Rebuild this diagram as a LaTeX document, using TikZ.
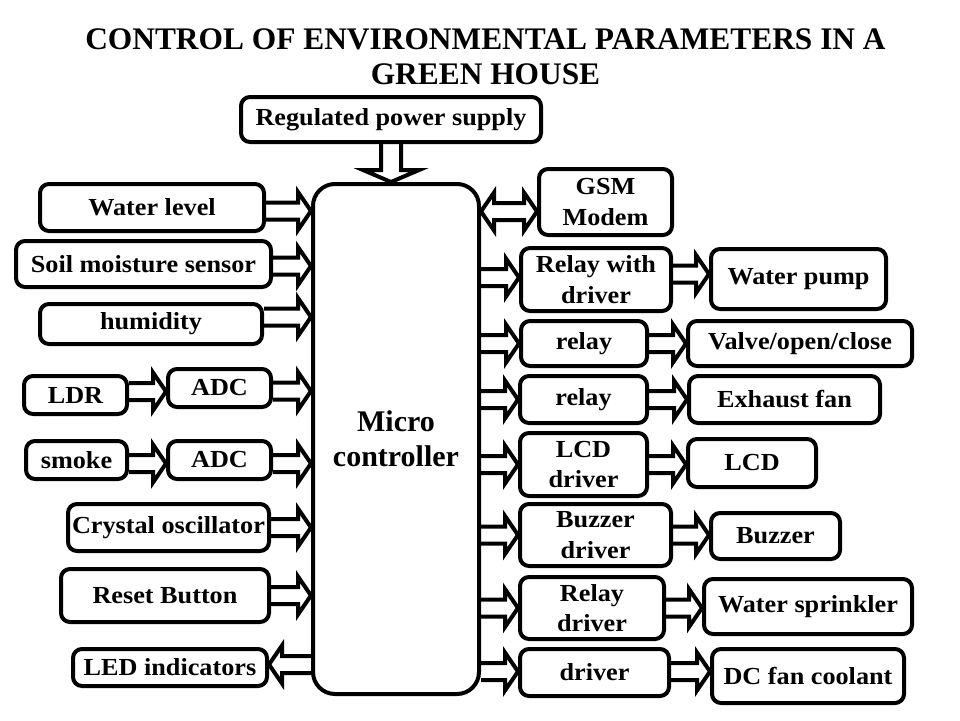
\documentclass[tikz,border=0pt]{standalone}
\usepackage{fontspec}
\setmainfont{Liberation Serif}
\newfontfamily\boxfont{Liberation Serif}[FakeStretch=1.07]
\usetikzlibrary{calc}
\tikzset{
  box/.style={draw, line width=4pt, rounded corners=9pt, inner sep=0pt, align=center,
    font=\boxfont\bfseries\fontsize{24.5}{30.5}\selectfont},
  sz/.style 2 args={minimum width=#1pt, minimum height=#2pt},
  barr/.style={line width=4pt, line join=miter, miter limit=10},
}
\def\BAsw{8.5pt}\def\BAhw{19pt}\def\BAhl{13pt}
\def\PVsw{10pt}\def\PVhw{28pt}\def\PVhl{12pt}
\newcommand\ArrR[2]{%
  \draw[barr] let \p1=#1, \p2=#2 in
    (\x1,{\y1+\BAsw}) -- ({\x2-\BAhl},{\y1+\BAsw}) -- ({\x2-\BAhl},{\y1+\BAhw}) -- (\x2,\y1)
    -- ({\x2-\BAhl},{\y1-\BAhw}) -- ({\x2-\BAhl},{\y1-\BAsw}) -- (\x1,{\y1-\BAsw});}
\newcommand\ArrL[2]{%
  \draw[barr] let \p1=#1, \p2=#2 in
    (\x1,{\y1+\BAsw}) -- ({\x2+\BAhl},{\y1+\BAsw}) -- ({\x2+\BAhl},{\y1+\BAhw}) -- (\x2,\y1)
    -- ({\x2+\BAhl},{\y1-\BAhw}) -- ({\x2+\BAhl},{\y1-\BAsw}) -- (\x1,{\y1-\BAsw});}
\newcommand\ArrDbl[2]{%
  \draw[barr] let \p1=#1, \p2=#2 in
    (\x1,\y1) -- ({\x1+\BAhl},{\y1+\BAhw}) -- ({\x1+\BAhl},{\y1+\BAsw}) -- ({\x2-\BAhl},{\y1+\BAsw})
    -- ({\x2-\BAhl},{\y1+\BAhw}) -- (\x2,\y1) -- ({\x2-\BAhl},{\y1-\BAhw}) -- ({\x2-\BAhl},{\y1-\BAsw})
    -- ({\x1+\BAhl},{\y1-\BAsw}) -- ({\x1+\BAhl},{\y1-\BAhw}) -- cycle;}
\newcommand\ArrDown[2]{%
  \draw[barr] let \p1=#1, \p2=#2 in
    ({\x1-\PVsw},\y1) -- ({\x1-\PVsw},{\y2+\PVhl}) -- ({\x1-\PVhw},{\y2+\PVhl}) -- (\x1,\y2)
    -- ({\x1+\PVhw},{\y2+\PVhl}) -- ({\x1+\PVsw},{\y2+\PVhl}) -- ({\x1+\PVsw},\y1);}
\begin{document}
\begin{tikzpicture}[x=1pt,y=-1pt]
\useasboundingbox[fill=white] (0,0) rectangle (960,720);

\node[font=\bfseries\fontsize{31.4}{35}\selectfont, align=center, inner sep=0pt] (title) at (485.5,57)
  {CONTROL OF ENVIRONMENTAL PARAMETERS IN A\\GREEN HOUSE};

\node[box, sz={300}{45}] (PS) at (391,119.5) {Regulated power supply};
\node[draw, line width=4pt, rounded corners=22pt, sz={166}{510}, inner sep=0pt, align=center,
  font=\bfseries\fontsize{30}{35}\selectfont] (MC) at (396,439) {Micro\\controller};

% left column
\node[box, sz={224}{47}] (WL) at (152,207.5) {Water level};
\node[box, sz={255}{46}] (SM) at (143.5,264) {Soil moisture sensor};
\node[box, sz={222}{40}] (HU) at (151,324) {humidity};
\node[box, sz={103}{38}] (LDR) at (75.5,395) {LDR};
\node[box, sz={103}{38}] (ADCa) at (219.5,388) {ADC};
\node[box, sz={101}{38}] (SMK) at (76.5,460) {smoke};
\node[box, sz={103}{38}] (ADCb) at (219.5,460) {ADC};
\node[box, sz={201}{47}] (CO) at (168.5,527.5) {Crystal oscillator};
\node[box, sz={208}{53}] (RB) at (165,595.5) {Reset Button};
\node[box, sz={194}{37}] (LED) at (170,667.5) {LED indicators};

% right columns
\node[box, sz={133}{66}] (GSM) at (605.5,202) {GSM\\Modem};
\node[box, sz={150}{63}] (RWD) at (596,279.5) {Relay with\\driver};
\node[box, sz={175}{60}] (WP) at (798.5,279) {Water pump};
\node[box, sz={126}{45}] (R1) at (584,343.5) {relay};
\node[box, sz={224}{45}] (VOC) at (800,343.5) {Valve/open/close};
\node[box, sz={127}{47}] (R2) at (583.5,399.5) {relay};
\node[box, sz={191}{47}] (EF) at (784.5,399.5) {Exhaust fan};
\node[box, sz={127}{63}] (LCDD) at (583.5,464.5) {LCD\\driver};
\node[box, sz={128}{48}] (LCD) at (752,463) {LCD};
\node[box, sz={151}{62}] (BZD) at (595.5,535) {Buzzer\\driver};
\node[box, sz={129}{46}] (BZ) at (775.5,536) {Buzzer};
\node[box, sz={144}{62}] (RD) at (592,608) {Relay\\driver};
\node[box, sz={208}{55}] (WS) at (808,606.5) {Water sprinkler};
\node[box, sz={149}{47}] (DRV) at (594.5,672.5) {driver};
\node[box, sz={192}{54}] (DCF) at (808,676) {DC fan coolant};

% connectors
\ArrDown{(PS.south)}{(MC.north)}
\ArrR{($(WL.east)+(0,3.5)$)}{(MC.west)}
\ArrR{($(SM.east)+(0,2)$)}{(MC.west)}
\ArrR{($(HU.east)+(0,-7)$)}{(MC.west)}
\ArrR{($(LDR.east)+(0,-3.5)$)}{(ADCa.west)}
\ArrR{($(ADCa.east)+(0,3)$)}{(MC.west)}
\ArrR{($(SMK.east)+(0,3.5)$)}{(ADCb.west)}
\ArrR{($(ADCb.east)+(0,3.5)$)}{(MC.west)}
\ArrR{(CO.east)}{(MC.west)}
\ArrR{(RB.east)}{(MC.west)}
\ArrL{($(MC.west|-LED.east)+(0,-3)$)}{(LED.east)}

\coordinate (gsmy) at ($(GSM.west)+(0,9.5)$);
\ArrDbl{(MC.east|-gsmy)}{(gsmy)}
\ArrR{($(MC.east|-RWD.west)+(0,-2)$)}{(RWD.west)}
\ArrR{(MC.east|-R1.west)}{(R1.west)}
\ArrR{(MC.east|-R2.west)}{(R2.west)}
\ArrR{(MC.east|-LCDD.west)}{(LCDD.west)}
\ArrR{(MC.east|-BZD.west)}{(BZD.west)}
\ArrR{(MC.east|-RD.west)}{(RD.west)}
\ArrR{($(MC.east|-DRV.west)+(0,-1)$)}{(DRV.west)}

\ArrR{($(RWD.east)+(0,-5.5)$)}{(WP.west)}
\ArrR{(R1.east)}{(VOC.west)}
\ArrR{(R2.east)}{(EF.west)}
\ArrR{(LCDD.east)}{(LCD.west)}
\ArrR{(BZD.east)}{(BZ.west)}
\ArrR{(RD.east)}{(WS.west)}
\ArrR{($(DRV.east)+(0,-1)$)}{(DCF.west)}
\end{tikzpicture}
\end{document}
